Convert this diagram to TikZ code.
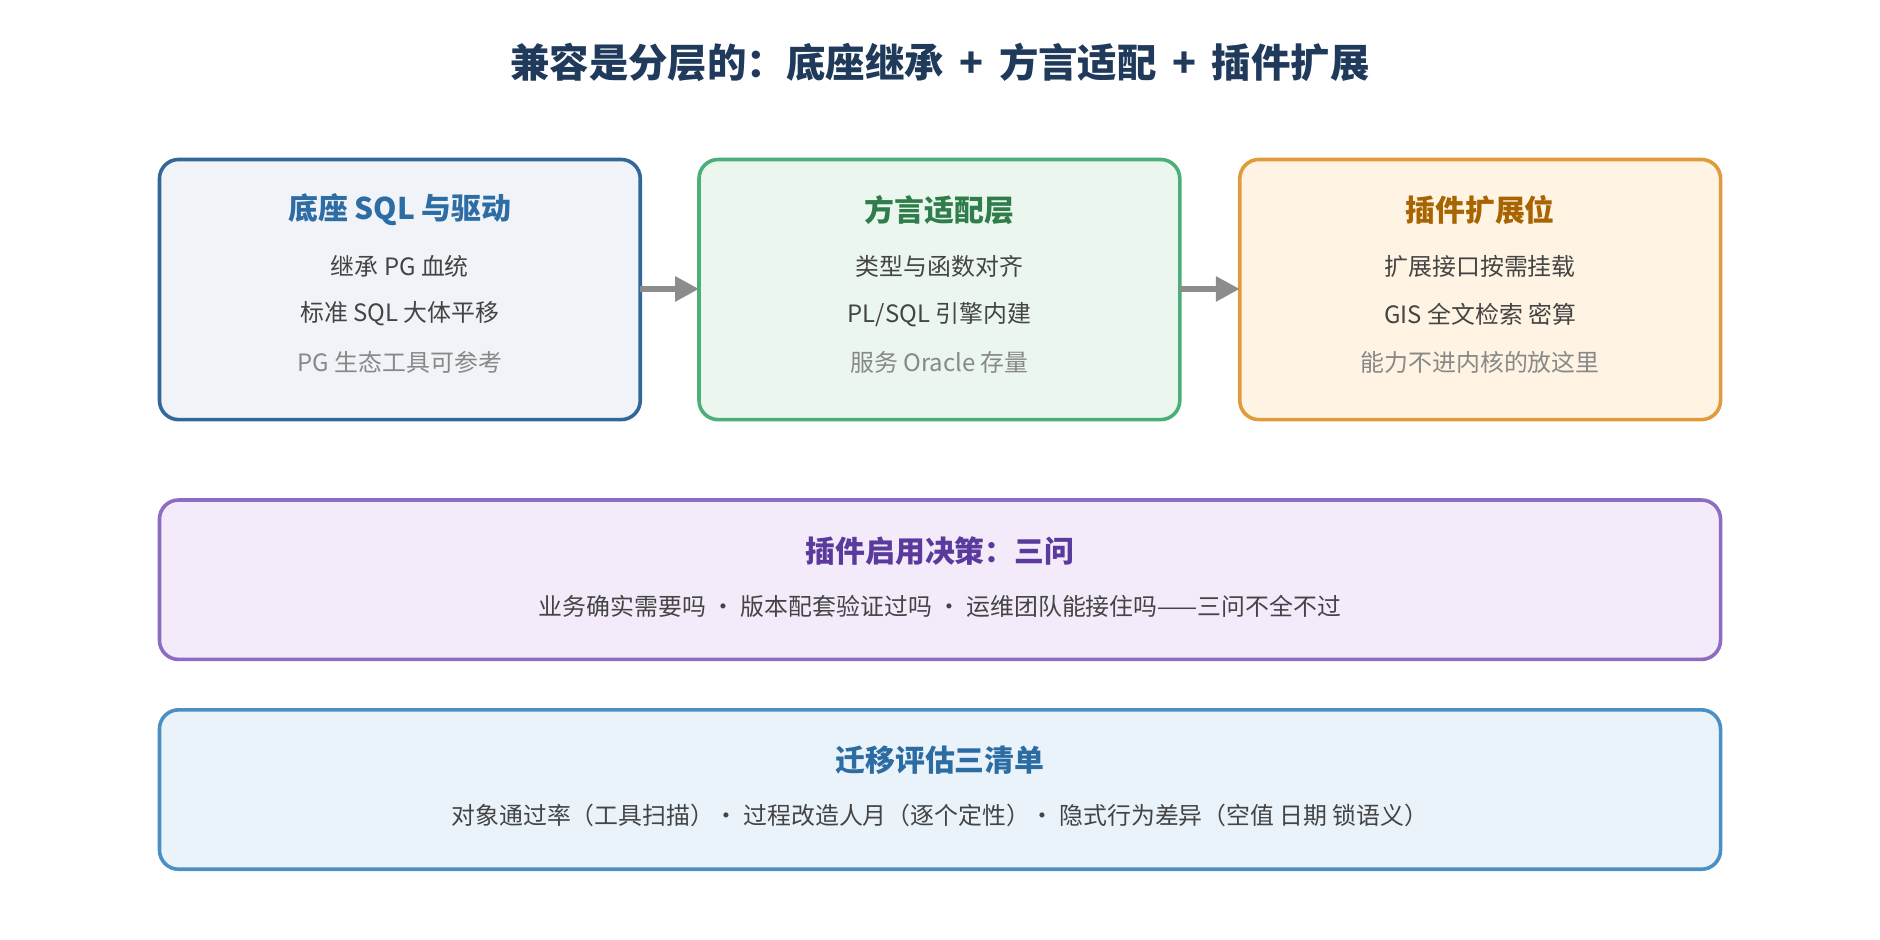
\documentclass[tikz,border=0pt]{standalone}
\usepackage{fontspec}
\setmainfont{Noto Sans CJK SC}
\usepackage{xcolor}
\usetikzlibrary{positioning,arrows.meta}
\definecolor{baseLine}{HTML}{336699}
\definecolor{baseFill}{HTML}{F0F4F8}
\definecolor{baseHead}{HTML}{2E6CA4}
\definecolor{dialLine}{HTML}{4CAF7A}
\definecolor{dialFill}{HTML}{EBF7EE}
\definecolor{dialHead}{HTML}{2E7D4A}
\definecolor{plugLine}{HTML}{E09B3D}
\definecolor{plugFill}{HTML}{FFF4E3}
\definecolor{plugHead}{HTML}{A86400}
\definecolor{askLine}{HTML}{8E6CC4}
\definecolor{askFill}{HTML}{F3EBF9}
\definecolor{askHead}{HTML}{5B3A9E}
\definecolor{listLine}{HTML}{4A90C4}
\definecolor{listFill}{HTML}{EAF2FA}
\definecolor{listHead}{HTML}{2B6CA3}
\definecolor{bodyText}{HTML}{444444}
\definecolor{mutedText}{HTML}{888888}
\definecolor{titleText}{HTML}{1F3A5A}
\definecolor{arrowGray}{HTML}{8C8C8C}

\begin{document}
\begin{tikzpicture}[
  x=0.5bp, y=-0.5bp,
  panel/.style={draw=#1Line, fill=#1Fill, line width=1.5bp, rounded corners=8bp},
  head/.style={text=#1Head, font=\fontsize{12.5}{14}\selectfont\bfseries, anchor=center},
  line/.style={text=bodyText, font=\fontsize{10}{12}\selectfont, anchor=center},
  muted/.style={text=mutedText, font=\fontsize{10}{12}\selectfont, anchor=center},
  flow/.style={draw=arrowGray, line width=2.5bp, -{Triangle[length=10bp,width=10bp]}}
]
\useasboundingbox (0,0) rectangle (1568,784);
\fill[white] (0,0) rectangle (1568,784);
\node[text=titleText, font=\fontsize{16.5}{19}\selectfont\bfseries] (title) at (784,52) {兼容是分层的：底座继承 \,+\, 方言适配 \,+\, 插件扩展};

% three layers
\draw[panel=base] (133,133) rectangle (534,350);
\draw[panel=dial] (583,133) rectangle (984,350);
\draw[panel=plug] (1034,133) rectangle (1435,350);
\coordinate (baseR) at (534,241);
\coordinate (dialL) at (583,241);
\coordinate (dialR) at (984,241);
\coordinate (plugL) at (1034,241);
\draw[flow] (baseR) -- (dialL);
\draw[flow] (dialR) -- (plugL);

\node[head=base] (baseT) at (333.5,175) {底座 SQL 与驱动};
\node[line] (base1) at (333.5,222) {继承 PG 血统};
\node[line] (base2) at (333.5,262) {标准 SQL 大体平移};
\node[muted] (base3) at (333.5,302) {PG 生态工具可参考};

\node[head=dial] (dialT) at (783.5,175) {方言适配层};
\node[line] (dial1) at (783.5,222) {类型与函数对齐};
\node[line] (dial2) at (783.5,262) {PL/SQL 引擎内建};
\node[muted] (dial3) at (783.5,302) {服务 Oracle 存量};

\node[head=plug] (plugT) at (1234.5,175) {插件扩展位};
\node[line] (plug1) at (1234.5,222) {扩展接口按需挂载};
\node[line] (plug2) at (1234.5,262) {GIS 全文检索 密算};
\node[muted] (plug3) at (1234.5,302) {能力不进内核的放这里};

% decision and checklist
\draw[panel=ask] (133,417) rectangle (1435,550);
\node[head=ask] (askT) at (784,460) {插件启用决策：三问};
\node[line] (ask1) at (784,506) {业务确实需要吗 · 版本配套验证过吗 · 运维团队能接住吗——三问不全不过};

\draw[panel=list] (133,592) rectangle (1435,725);
\node[head=list] (listT) at (784,634) {迁移评估三清单};
\node[line] (list1) at (784,680) {对象通过率（工具扫描）· 过程改造人月（逐个定性）· 隐式行为差异（空值 日期 锁语义）};
\end{tikzpicture}
\end{document}
